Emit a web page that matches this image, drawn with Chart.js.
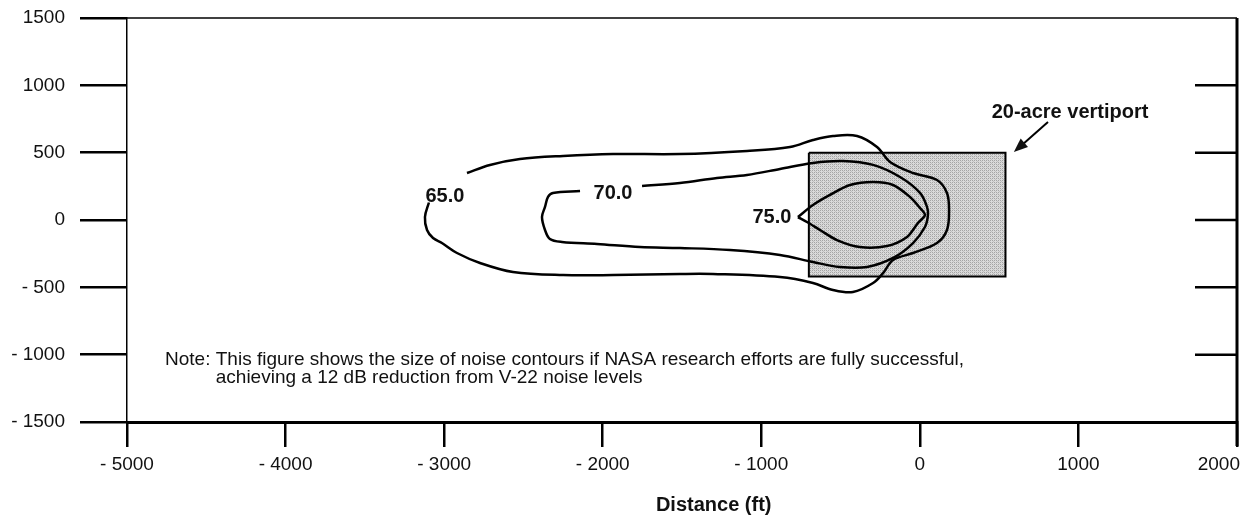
<!DOCTYPE html>
<html>
<head>
<meta charset="utf-8">
<script src="https://cdn.jsdelivr.net/npm/chart.js@4.4.1/dist/chart.umd.min.js"></script>
<style>
  html, body { margin: 0; padding: 0; background: #fff; }
  #wrap { width: 1248px; height: 518px; position: relative; }
</style>
</head>
<body>
<div id="wrap"><canvas id="chartArea"></canvas></div>
<script>
// axis ticks
var xTicks = [-5000, -4000, -3000, -2000, -1000, 0, 1000, 2000];
var xTickLabels = ['- 5000', '- 4000', '- 3000', '- 2000', '- 1000', '0', '1000', '2000'];
var yTicks = [-1500, -1000, -500, 0, 500, 1000, 1500];
var yTickLabels = ['- 1500', '- 1000', '- 500', '0', '500', '1000', '1500'];
var rightTicks = [-1000, -500, 0, 500, 1000];

// noise contours (ft)
var contour65 = [
    [-2856, 349], [-2711, 409], [-2522, 453], [-2250, 476], [-1935, 490], [-1513, 490],
    [-1090, 513], [-819, 542], [-674, 594], [-548, 624], [-396, 624], [-270, 542],
    [-188, 431], [-43, 349], [108, 297], [171, 201], [184, 74], [171, -74],
    [108, -171], [-43, -245], [-169, -297], [-232, -394], [-295, -468], [-422, -535],
    [-548, -520], [-674, -468], [-882, -424], [-1305, -401], [-1513, -401], [-1935, -409],
    [-2250, -409], [-2566, -386], [-2774, -319], [-2919, -245], [-3014, -171], [-3070, -134],
    [-3108, -74], [-3121, 22], [-3096, 130]
];
var contour70 = [
    [-2143, 215], [-2314, 201], [-2345, 171], [-2364, 97], [-2383, 22], [-2364, -74],
    [-2333, -141], [-2257, -163], [-2036, -178], [-1765, -201], [-1513, -208], [-1197, -223],
    [-882, -260], [-674, -312], [-504, -349], [-333, -349], [-169, -282], [-43, -171],
    [32, -52], [51, 37], [45, 97], [1, 201], [-125, 319], [-295, 409],
    [-485, 438], [-674, 424], [-882, 379], [-1090, 334], [-1279, 312], [-1513, 275],
    [-1752, 253]
];
var contour75 = [
    [-769, 22], [-674, 111], [-567, 186], [-441, 260], [-295, 282], [-169, 260],
    [-62, 171], [1, 89], [32, 37], [-12, -22], [-81, -126], [-207, -193],
    [-378, -201], [-523, -149], [-630, -74], [-712, -15], [-769, 22]
];
var vertiport = [[-700, 500], [540, 500], [540, -420], [-700, -420], [-700, 500]];

var contourLabels = [
    { text: '65.0', x: -2995, y: 175 },
    { text: '70.0', x: -1935, y: 195 },
    { text: '75.0', x: -933, y: 22 }
];
var vertiportLabel = { text: '20-acre vertiport', x: 947, y: 802 };
var arrowFrom = [808, 728];
var arrowTo = [593, 505];
var noteLines = [
    'Note: ',
    'This figure shows the size of noise contours if NASA research efforts are fully successful,',
    'achieving a 12 dB reduction from V-22 noise levels'
];
var notePos = { x: -4760, y: -1040 };
var xTitle = 'Distance (ft)';
var xTitleAt = -1300;

var FONT = "'Liberation Sans', Arial, Helvetica, sans-serif";

function toPts(arr) {
    return arr.map(function (p) { return { x: p[0], y: p[1] }; });
}

function halftone() {
    var c = document.createElement('canvas');
    c.width = 4; c.height = 4;
    var g = c.getContext('2d');
    g.fillStyle = '#dadada';
    g.fillRect(0, 0, 4, 4);
    g.fillStyle = '#a4a4a4';
    g.fillRect(0, 0, 1, 1); g.fillRect(2, 2, 1, 1);
    g.fillRect(2, 0, 1, 1); g.fillRect(0, 2, 1, 1);
    g.fillStyle = '#c0c0c0';
    g.fillRect(1, 1, 1, 1); g.fillRect(3, 3, 1, 1);
    return g.createPattern(c, 'repeat');
}

var decorations = {
    id: 'decorations',
    afterDraw: function (chart) {
        var ctx = chart.ctx;
        var xs = chart.scales.x, ys = chart.scales.y;
        var a = chart.chartArea;
        ctx.save();
        ctx.strokeStyle = '#000';
        ctx.lineCap = 'butt';

        // top and right frame
        ctx.lineWidth = 1.5;
        ctx.beginPath();
        ctx.moveTo(a.left, a.top);
        ctx.lineTo(a.right, a.top);
        ctx.stroke();
        ctx.lineWidth = 3;
        ctx.beginPath();
        ctx.moveTo(a.right, a.top);
        ctx.lineTo(a.right, a.bottom + 24);
        ctx.stroke();

        // inner ticks on the right side
        ctx.lineWidth = 2.5;
        rightTicks.forEach(function (v) {
            var py = ys.getPixelForValue(v);
            ctx.beginPath();
            ctx.moveTo(a.right - 42, py);
            ctx.lineTo(a.right, py);
            ctx.stroke();
        });

        ctx.fillStyle = '#111';
        ctx.textBaseline = 'middle';

        // x tick labels, the last one kept inside the page
        ctx.font = '19px ' + FONT;
        xTicks.forEach(function (v, i) {
            var px = xs.getPixelForValue(v);
            if (i === xTicks.length - 1) {
                ctx.textAlign = 'right';
                px += 3;
            } else {
                ctx.textAlign = 'center';
            }
            ctx.fillText(xTickLabels[i], px, a.bottom + 43);
        });

        // contour labels
        ctx.font = 'bold 20px ' + FONT;
        ctx.textAlign = 'center';
        contourLabels.forEach(function (l) {
            ctx.fillText(l.text, xs.getPixelForValue(l.x), ys.getPixelForValue(l.y));
        });
        ctx.fillText(vertiportLabel.text, xs.getPixelForValue(vertiportLabel.x), ys.getPixelForValue(vertiportLabel.y));

        // arrow
        var x1 = xs.getPixelForValue(arrowFrom[0]), y1 = ys.getPixelForValue(arrowFrom[1]);
        var x2 = xs.getPixelForValue(arrowTo[0]), y2 = ys.getPixelForValue(arrowTo[1]);
        var ang = Math.atan2(y2 - y1, x2 - x1);
        ctx.lineWidth = 2;
        ctx.beginPath();
        ctx.moveTo(x1, y1);
        ctx.lineTo(x2 - 10 * Math.cos(ang), y2 - 10 * Math.sin(ang));
        ctx.stroke();
        ctx.beginPath();
        ctx.moveTo(x2, y2);
        ctx.lineTo(x2 - 15 * Math.cos(ang - 0.38), y2 - 15 * Math.sin(ang - 0.38));
        ctx.lineTo(x2 - 15 * Math.cos(ang + 0.38), y2 - 15 * Math.sin(ang + 0.38));
        ctx.closePath();
        ctx.fill();

        // note
        ctx.font = '19px ' + FONT;
        ctx.textAlign = 'left';
        var nx = xs.getPixelForValue(notePos.x), ny = ys.getPixelForValue(notePos.y);
        var indent = ctx.measureText(noteLines[0]).width;
        ctx.fillText(noteLines[0] + noteLines[1], nx, ny);
        ctx.fillText(noteLines[2], nx + indent, ny + 18);

        // axis title
        ctx.font = 'bold 20px ' + FONT;
        ctx.textAlign = 'center';
        ctx.fillText(xTitle, xs.getPixelForValue(xTitleAt), a.bottom + 83);
        ctx.restore();
    }
};

var ctx = document.getElementById('chartArea').getContext('2d');
var myChart = new Chart(ctx, {
    type: 'scatter',
    data: {
        datasets: [{
            label: '20-acre vertiport',
            data: toPts(vertiport),
            order: 5,
            showLine: true,
            fill: 'shape',
            backgroundColor: halftone(),
            borderColor: '#000',
            borderWidth: 2,
            pointRadius: 0,
            tension: 0
        }, {
            label: '65.0',
            data: toPts(contour65),
            order: 1,
            showLine: true,
            borderColor: '#000',
            borderWidth: 2.5,
            pointRadius: 0,
            tension: 0.35
        }, {
            label: '70.0',
            data: toPts(contour70),
            order: 1,
            showLine: true,
            borderColor: '#000',
            borderWidth: 2.5,
            pointRadius: 0,
            tension: 0.35
        }, {
            label: '75.0',
            data: toPts(contour75),
            order: 1,
            showLine: true,
            borderColor: '#000',
            borderWidth: 2.5,
            pointRadius: 0,
            tension: 0.3
        }]
    },
    options: {
        responsive: true,
        maintainAspectRatio: false,
        animation: false,
        layout: { padding: { top: 18, right: 11, left: 0, bottom: 0 } },
        plugins: {
            legend: { display: false },
            tooltip: { enabled: false }
        },
        scales: {
            x: {
                type: 'linear',
                min: -5000,
                max: 2000,
                afterFit: function (s) {
                    s.height = 96;
                    s.paddingLeft = 0;
                    s.paddingRight = 0;
                },
                afterBuildTicks: function (s) {
                    s.ticks = xTicks.map(function (v) { return { value: v }; });
                },
                ticks: { display: false },
                grid: {
                    drawOnChartArea: false,
                    drawTicks: true,
                    tickLength: 25,
                    color: '#000',
                    lineWidth: 2.5
                },
                border: { display: true, color: '#000', width: 3 }
            },
            y: {
                type: 'linear',
                min: -1500,
                max: 1500,
                afterFit: function (s) {
                    s.width = 127;
                    s.paddingTop = 0;
                    s.paddingBottom = 0;
                },
                afterBuildTicks: function (s) {
                    s.ticks = yTicks.map(function (v) { return { value: v }; });
                },
                ticks: {
                    padding: 15,
                    color: '#111',
                    font: { family: FONT, size: 19 },
                    callback: function (v) { return yTickLabels[yTicks.indexOf(v)]; }
                },
                grid: {
                    drawOnChartArea: false,
                    drawTicks: true,
                    tickLength: 47,
                    color: '#000',
                    lineWidth: 2.5
                },
                border: { display: true, color: '#000', width: 1.5 }
            }
        }
    },
    plugins: [decorations]
});
</script>
</body>
</html>
